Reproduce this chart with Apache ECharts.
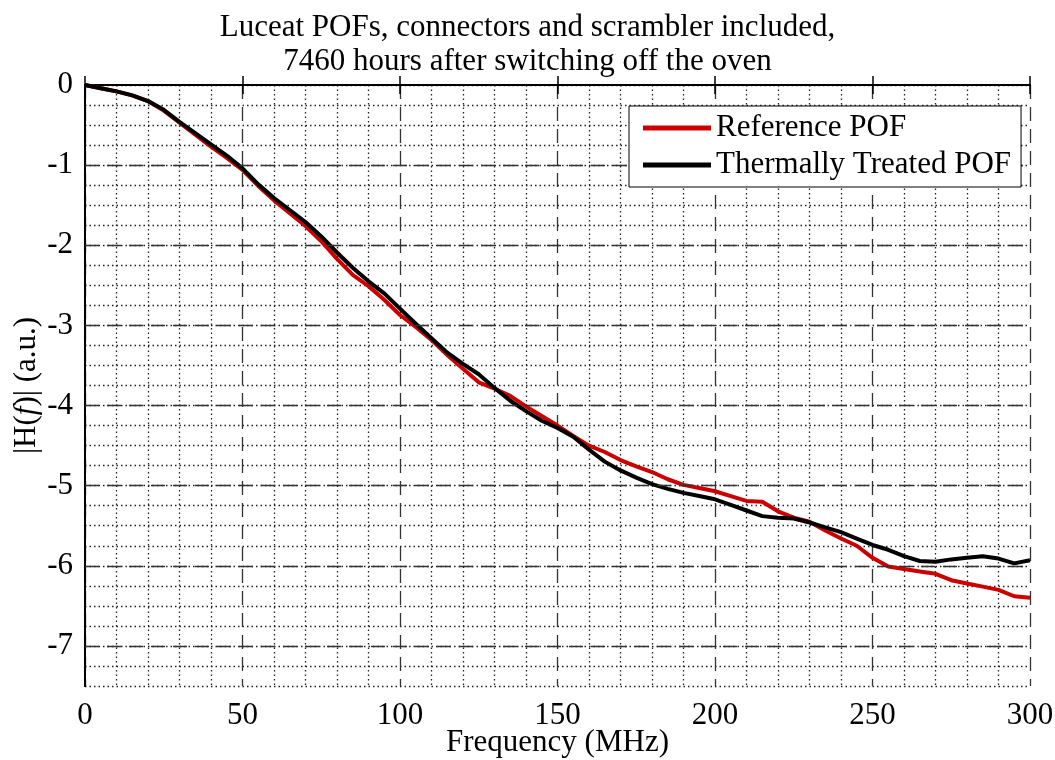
<!DOCTYPE html>
<html>
<head>
<meta charset="utf-8">
<script src="https://cdn.jsdelivr.net/npm/echarts@6/dist/echarts.min.js"></script>
<style>
  html, body { margin: 0; padding: 0; background: #fff; }
  #chart { width: 1055px; height: 760px; }
</style>
</head>
<body>
<div id="chart"></div>
<script>
// frequency in MHz
const freq = [0, 5, 10, 15, 20, 25, 30, 35, 40, 45, 50, 55, 60, 65, 70, 75, 80, 85, 90, 95,
    100, 105, 110, 115, 120, 125, 130, 135, 140, 145, 150, 155, 160, 165, 170, 175, 180, 185, 190, 195,
    200, 205, 210, 215, 220, 225, 230, 235, 240, 245, 250, 255, 260, 265, 270, 275, 280, 285, 290, 295, 300];

// |H(f)|
const referencePOF = [0, -0.04, -0.08, -0.13, -0.20, -0.32, -0.47, -0.62, -0.77, -0.91,
    -1.06, -1.26, -1.44, -1.60, -1.76, -1.95, -2.17, -2.37, -2.51, -2.68,
    -2.87, -3.02, -3.18, -3.37, -3.54, -3.71, -3.79, -3.88, -4.01, -4.13,
    -4.25, -4.38, -4.50, -4.58, -4.68, -4.76, -4.83, -4.92, -4.99, -5.03,
    -5.07, -5.13, -5.19, -5.20, -5.32, -5.40, -5.45, -5.56, -5.66, -5.75,
    -5.90, -6.01, -6.04, -6.07, -6.10, -6.18, -6.22, -6.26, -6.30, -6.38, -6.40];

const treatedPOF = [0, -0.04, -0.08, -0.13, -0.20, -0.31, -0.46, -0.60, -0.74, -0.88,
    -1.04, -1.24, -1.41, -1.56, -1.71, -1.89, -2.09, -2.28, -2.45, -2.60,
    -2.79, -2.98, -3.16, -3.34, -3.48, -3.61, -3.78, -3.94, -4.07, -4.19,
    -4.28, -4.39, -4.55, -4.70, -4.81, -4.90, -4.98, -5.04, -5.09, -5.13,
    -5.17, -5.24, -5.31, -5.38, -5.40, -5.41, -5.46, -5.52, -5.58, -5.66,
    -5.74, -5.80, -5.88, -5.94, -5.95, -5.92, -5.90, -5.88, -5.91, -5.97, -5.93];

const yMajorTicks = [-1, -2, -3, -4, -5, -6, -7];
const seriesNames = ['Reference POF', 'Thermally Treated POF'];

const FONT = 'Liberation Serif';
const FS = 31;
const dashed = { type: [14, 8], color: '#333', width: 1.3 };
const dotted = { type: [1.5, 3], color: '#222', width: 1.3 };

const pairs = (ys) => freq.map((f, i) => [f, ys[i]]);

const chartDom = document.getElementById('chart');
const myChart = echarts.init(chartDom);

myChart.setOption({
    animation: false,
    backgroundColor: '#fff',
    title: {
        text: 'Luceat POFs, connectors and scrambler included,\n7460 hours after switching off the oven',
        left: 'center',
        top: 6,
        textStyle: { fontFamily: FONT, fontSize: FS, lineHeight: 34, fontWeight: 'normal', color: '#000' }
    },
    legend: {
        data: seriesNames,
        orient: 'vertical',
        left: 629,
        top: 106,
        z: 10,
        padding: [6, 10, 6, 14],
        itemGap: 5,
        itemWidth: 68,
        itemHeight: 5,
        icon: 'rect',
        borderColor: '#000',
        borderWidth: 1,
        backgroundColor: '#fff',
        textStyle: { fontFamily: FONT, fontSize: FS, lineHeight: 32, color: '#000' }
    },
    grid: { left: 85, right: 25, top: 85, bottom: 74, outerBoundsMode: 'none' },
    xAxis: [
        {
            type: 'value',
            min: 0,
            max: 300,
            interval: 50,
            position: 'bottom',
            name: 'Frequency (MHz)',
            nameLocation: 'middle',
            nameGap: 41,
            nameMoveOverlap: false,
            nameTextStyle: { fontFamily: FONT, fontSize: FS, color: '#000' },
            axisLine: { lineStyle: { color: '#000', width: 2 } },
            axisTick: { inside: true, length: 9, lineStyle: { color: '#000', width: 1.5 } },
            axisLabel: { margin: 14, fontFamily: FONT, fontSize: FS, color: '#000' },
            splitLine: { show: true, lineStyle: dashed },
            minorTick: { show: false, splitNumber: 5 },
            minorSplitLine: { show: true, lineStyle: dotted }
        },
        {
            type: 'value',
            min: 0,
            max: 300,
            interval: 50,
            position: 'top',
            axisLine: { lineStyle: { color: '#000', width: 2 } },
            axisTick: { inside: true, length: 9, lineStyle: { color: '#000', width: 1.5 } },
            axisLabel: { show: false },
            splitLine: { show: false }
        }
    ],
    yAxis: [
        {
            type: 'value',
            min: -7.5,
            max: 0,
            interval: 0.25,
            position: 'left',
            name: '|H({i|f})| (a.u.)',
            nameLocation: 'middle',
            nameGap: 43,
            nameMoveOverlap: false,
            nameTextStyle: {
                fontFamily: FONT, fontSize: FS, color: '#000',
                rich: { i: { fontFamily: FONT, fontSize: FS, fontStyle: 'italic', color: '#000' } }
            },
            axisLine: { lineStyle: { color: '#000', width: 2 } },
            axisTick: { show: false },
            axisLabel: {
                margin: 12, fontFamily: FONT, fontSize: FS, color: '#000',
                formatter: (v) => Math.abs(v - Math.round(v)) < 1e-6 ? String(Math.round(v)) : ''
            },
            splitLine: { show: true, lineStyle: dotted }
        },
        {
            type: 'value',
            min: -7.5,
            max: 0,
            interval: 0.25,
            position: 'right',
            axisLine: { lineStyle: { color: '#000', width: 2 } },
            axisTick: { show: false },
            axisLabel: { show: false },
            splitLine: { show: false }
        }
    ],
    series: [
        {
            // major horizontal grid lines (dashed)
            type: 'line',
            data: [],
            silent: true,
            z: 1,
            markLine: {
                silent: true,
                symbol: ['none', 'none'],
                label: { show: false },
                lineStyle: dashed,
                data: yMajorTicks.map((v) => ({ yAxis: v }))
            }
        },
        {
            name: seriesNames[0],
            type: 'line',
            data: pairs(referencePOF),
            showSymbol: false,
            color: '#cc0000',
            lineStyle: { color: '#cc0000', width: 4 },
            z: 3
        },
        {
            name: seriesNames[1],
            type: 'line',
            data: pairs(treatedPOF),
            showSymbol: false,
            color: '#000',
            lineStyle: { color: '#000', width: 4 },
            z: 4
        }
    ]
});
</script>
</body>
</html>
